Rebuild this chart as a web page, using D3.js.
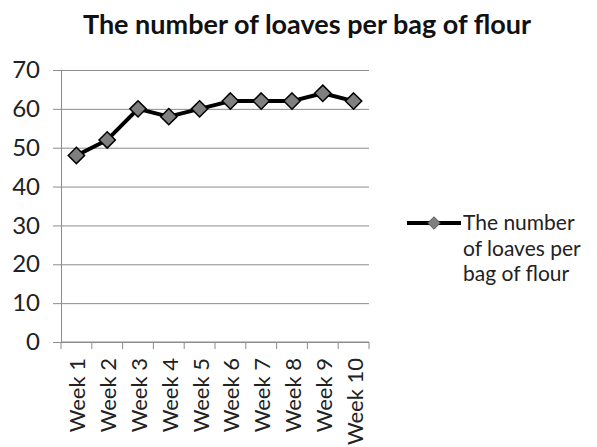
<html>

<head>
  <script src="https://d3js.org/d3.v7.min.js"></script>
  <style>
    body {
      margin: 0;
      background: #fff;
    }

    text {
      font-family: Lato, "Open Sans", sans-serif;
      fill: #222;
    }

    .gridlines line {
      stroke: #8c8c8c;
    }

    .gridlines .domain {
      stroke: none;
    }
  </style>
</head>

<body>
  <svg id="chart" width="597" height="447"></svg>

  <script>
    const weeks = ["Week 1", "Week 2", "Week 3", "Week 4", "Week 5", "Week 6", "Week 7", "Week 8", "Week 9", "Week 10"];
    const loaves = [48, 52, 60, 58, 60, 62, 62, 62, 64, 62];
    const yTicks = [0, 10, 20, 30, 40, 50, 60, 70];
    const seriesName = "The number of loaves per bag of flour";
    const legendLines = ["The number", "of loaves per", "bag of flour"];

    const svg = d3.select("svg#chart");
    const margin = { top: 70, left: 61, right: 228, bottom: 105 };
    const chartWidth = 597 - margin.left - margin.right;
    const chartHeight = 447 - margin.top - margin.bottom;

    const data = weeks.map((w, i) => ({ week: w, value: loaves[i] }));

    const xScale = d3.scaleBand()
      .domain(weeks)
      .range([0, chartWidth]);

    const yScale = d3.scaleLinear()
      .domain([0, 70])
      .range([chartHeight, 0]);

    svg.append("text")
      .attr("x", 307)
      .attr("y", 34)
      .attr("text-anchor", "middle")
      .style("font-size", "27px")
      .style("font-weight", "bold")
      .style("fill", "#111")
      .text(seriesName);

    const chartArea = svg.append("g")
      .attr("transform", `translate(${margin.left},${margin.top})`);

    // horizontal gridlines
    chartArea.append("g")
      .attr("class", "gridlines")
      .call(d3.axisLeft(yScale).tickValues(yTicks).tickSize(-chartWidth).tickFormat(""));

    // y axis
    const leftAxis = chartArea.append("g")
      .call(d3.axisLeft(yScale).tickValues(yTicks).tickSize(8).tickPadding(13));
    leftAxis.select(".domain").attr("stroke", "#8c8c8c");
    leftAxis.selectAll(".tick line").attr("stroke", "#8c8c8c");
    leftAxis.selectAll("text")
      .style("font-size", "24px")
      .style("font-family", "Lato, sans-serif")
      .attr("fill", "#222");

    // x axis with boundary ticks
    const bottomAxis = chartArea.append("g")
      .attr("transform", `translate(0,${chartHeight})`);
    bottomAxis.append("line")
      .attr("x1", 0).attr("x2", chartWidth)
      .attr("stroke", "#8c8c8c");
    bottomAxis.selectAll(".btick")
      .data(weeks.concat(["end"]))
      .enter().append("line")
      .attr("class", "btick")
      .attr("x1", (d, i) => i < weeks.length ? xScale(d) : chartWidth)
      .attr("x2", (d, i) => i < weeks.length ? xScale(d) : chartWidth)
      .attr("y1", 0).attr("y2", 7)
      .attr("stroke", "#8c8c8c");
    bottomAxis.selectAll(".wlabel")
      .data(weeks)
      .enter().append("text")
      .attr("class", "wlabel")
      .attr("transform", d => `translate(${xScale(d) + xScale.bandwidth() / 2 + 9},${16}) rotate(-90)`)
      .attr("text-anchor", "end")
      .style("font-size", "22px")
      .text(d => d);

    // line
    const line = d3.line()
      .x(d => xScale(d.week) + xScale.bandwidth() / 2)
      .y(d => yScale(d.value));

    chartArea.append("path")
      .datum(data)
      .attr("d", line)
      .attr("fill", "none")
      .attr("stroke", "#000")
      .attr("stroke-width", 4)
      .attr("stroke-linejoin", "round");

    const diamond = d3.symbol().type(d3.symbolDiamond2).size(170);

    chartArea.selectAll(".marker")
      .data(data)
      .enter().append("path")
      .attr("class", "marker")
      .attr("d", diamond)
      .attr("transform", d => `translate(${xScale(d.week) + xScale.bandwidth() / 2},${yScale(d.value)})`)
      .attr("fill", "#7f7f7f")
      .attr("stroke", "#000")
      .attr("stroke-width", 1.5);

    // legend
    const legend = svg.append("g").attr("transform", "translate(407,223)");
    legend.append("line")
      .attr("x1", 0).attr("x2", 54)
      .attr("stroke", "#000").attr("stroke-width", 4);
    legend.append("path")
      .attr("d", d3.symbol().type(d3.symbolDiamond2).size(100))
      .attr("transform", "translate(27,0)")
      .attr("fill", "#7f7f7f")
      .attr("stroke", "#555")
      .attr("stroke-width", 1);
    legend.selectAll(".ltext")
      .data(legendLines)
      .enter().append("text")
      .attr("class", "ltext")
      .attr("x", 56)
      .attr("y", (d, i) => 7 + i * 25.5)
      .style("font-size", "21px")
      .text(d => d);
  </script>
</body>

</html>
